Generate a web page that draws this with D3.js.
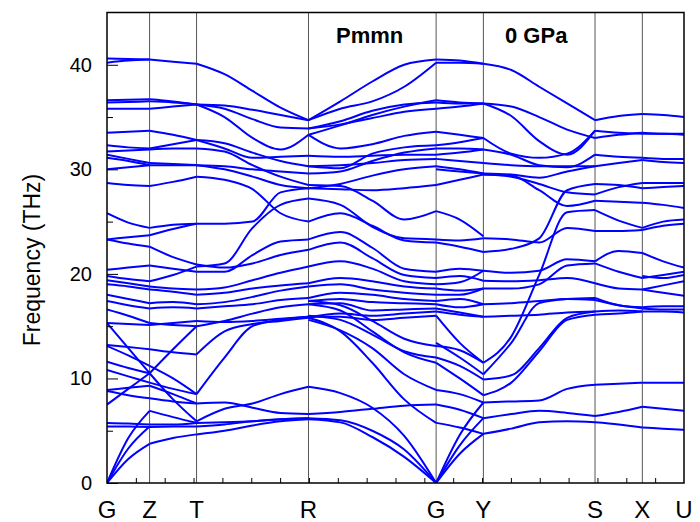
<!DOCTYPE html>
<html>
<head>
<meta charset="utf-8">
<script src="https://cdn.jsdelivr.net/npm/d3@7"></script>
<style>
  body { margin: 0; background: #fff; }
  text { font-family: "Liberation Sans", Arial, sans-serif; }
</style>
</head>
<body>
<div id="chart"></div>
<script>
"use strict";

// high symmetry points along the path (fraction of path length)
let kLabels = ["G", "Z", "T", "R", "G", "Y", "S", "X", "U"];
let kPos = [0, 0.0738, 0.1552, 0.3492, 0.5704, 0.6523, 0.8458, 0.9278, 1];

let yTicks = [0, 10, 20, 30, 40];

let bandsGZ = [
  [40.6, 40.55, 40.5], [40.2, 40.4, 40.5], [36.6, 36.65, 36.7], [36.4, 36.45, 36.5],
  [35.8, 35.8, 35.8], [33.5, 33.6, 33.7], [32.3, 32.1, 32.0], [31.7, 31.8, 31.9],
  [31.4, 31.0, 30.6], [31.1, 30.8, 30.4], [30.0, 30.2, 30.4], [28.7, 28.5, 28.4],
  [25.8, 24.9, 24.4], [23.3, 23.5, 23.7], [23.3, 22.9, 22.6], [20.4, 20.6, 20.8],
  [19.8, 19.5, 19.3], [19.4, 19.1, 18.8], [19.0, 18.8, 18.5], [18.0, 17.6, 17.2],
  [17.4, 17.0, 16.7], [16.6, 16.0, 15.3], [15.3, 15.2, 15.1], [15.3, 12.9, 10.5],
  [13.2, 13.0, 12.8], [13.1, 12.2, 11.2], [11.6, 11.0, 10.5], [10.8, 10.2, 9.6],
  [8.9, 9.1, 9.3], [8.8, 8.4, 8.1], [7.5, 9.0, 10.5], [5.75, 5.7, 5.6],
  [5.4, 5.4, 5.35], [0, 2.3, 3.75], [0, 3.3, 5.4], [0, 4.3, 6.9]
];

let bandsZT = [
  [40.5, 40.3, 40.1], [36.7, 36.5, 36.2], [36.5, 36.4, 36.2], [35.8, 36.0, 36.2],
  [33.7, 33.3, 32.8], [32.0, 32.4, 32.8], [31.9, 32.0, 32.0], [30.6, 30.5, 30.4],
  [30.4, 30.4, 30.4], [28.4, 28.8, 29.3], [24.4, 24.7, 24.8], [23.7, 24.3, 24.8],
  [22.6, 21.6, 20.9], [20.8, 20.5, 20.2], [19.3, 19.9, 20.7], [18.8, 18.6, 18.5],
  [18.5, 18.3, 18.0], [17.2, 17.3, 17.1], [16.7, 16.8, 16.7], [15.3, 15.1, 15.0],
  [15.1, 15.3, 15.5], [12.8, 12.5, 12.3], [10.5, 12.8, 15.0], [10.5, 8.0, 5.9],
  [11.2, 10.0, 8.5], [9.6, 9.0, 8.5], [9.3, 8.5, 7.6], [8.1, 7.8, 7.6],
  [6.9, 6.3, 5.75], [5.6, 5.6, 5.75], [5.35, 5.4, 5.4], [3.75, 4.3, 4.65]
];

let bandsTR = [
  [40.1, 39.1, 37.5, 35.9, 34.7], [36.2, 36.1, 35.7, 35.2, 34.7],
  [36.2, 35.8, 34.8, 34.0, 33.9], [36.2, 35.0, 33.0, 31.9, 33.3],
  [32.8, 32.0, 31.1, 31.2, 31.3], [32.8, 32.5, 31.6, 30.8, 30.3],
  [32.0, 31.7, 30.4, 29.3, 28.5], [30.4, 30.3, 30.0, 29.8, 29.6],
  [30.4, 30.0, 29.3, 28.5, 28.2], [29.3, 29.0, 28.1, 25.8, 25.0],
  [24.8, 24.8, 25.0, 27.8, 28.2], [20.7, 21.0, 24.4, 26.6, 27.2],
  [20.2, 20.2, 21.8, 23.1, 23.3], [20.9, 20.6, 21.0, 21.8, 22.3],
  [18.5, 18.7, 19.4, 20.1, 20.7], [18.0, 18.2, 18.6, 18.9, 19.1],
  [17.1, 17.3, 17.8, 18.4, 18.8], [16.7, 16.9, 17.1, 17.5, 17.7],
  [15.0, 15.5, 16.2, 16.8, 17.1], [15.5, 15.4, 15.5, 15.7, 15.9],
  [12.3, 14.5, 15.2, 15.5, 15.8], [8.5, 12.0, 15.0, 15.6, 15.9],
  [5.9, 7.1, 7.6, 8.5, 9.2], [7.6, 7.7, 7.2, 6.7, 6.6],
  [5.75, 5.8, 5.9, 6.1, 6.2], [5.4, 5.6, 5.9, 6.1, 6.2],
  [4.65, 5.0, 5.5, 5.9, 6.1]
];

let bandsRG = [
  [34.7, 36.5, 38.4, 40.0, 40.5], [34.7, 35.8, 36.5, 37.9, 40.2],
  [33.9, 34.6, 35.6, 36.2, 36.4], [33.3, 34.2, 35.2, 36.0, 36.6],
  [33.9, 34.3, 34.9, 35.5, 35.8], [33.3, 32.0, 32.4, 33.2, 33.6],
  [31.3, 31.2, 31.3, 31.4, 31.4], [30.3, 30.1, 31.5, 32.1, 32.3],
  [29.6, 29.8, 30.8, 31.6, 32.0], [30.3, 30.4, 30.6, 30.9, 31.0],
  [28.2, 28.6, 29.4, 30.0, 30.3], [28.2, 28.1, 28.0, 28.2, 28.5],
  [28.5, 28.4, 27.0, 25.2, 26.0],
  [27.2, 26.6, 24.5, 23.4, 23.3], [25.0, 25.8, 24.6, 23.2, 23.0],
  [23.3, 24.0, 22.5, 20.5, 20.2], [22.3, 23.0, 21.5, 19.9, 19.6],
  [20.7, 21.2, 20.5, 19.3, 19.0], [19.1, 19.6, 19.3, 18.8, 18.6],
  [18.8, 19.0, 18.5, 18.2, 18.0], [17.7, 18.2, 18.0, 17.6, 17.4],
  [17.4, 17.6, 17.3, 17.2, 17.1], [17.1, 17.2, 16.5, 16.6, 16.7],
  [15.8, 16.2, 16.0, 16.2, 16.4], [15.9, 15.9, 15.6, 15.8, 16.0],
  [15.6, 14.6, 12.9, 10.4, 8.9], [15.8, 14.5, 11.5, 8.0, 5.75],
  [17.1, 16.5, 14.5, 12.5, 11.5], [17.4, 17.0, 15.5, 13.8, 13.1],
  [16.0, 15.6, 14.2, 12.6, 12.0], [9.2, 8.6, 7.2, 4.5, 0],
  [6.2, 6.0, 5.0, 3.2, 0], [6.1, 5.8, 4.4, 2.5, 0],
  [6.6, 6.8, 7.1, 7.4, 7.5]
];

let bandsGY = [
  [40.5, 40.4, 40.1], [40.2, 40.2, 40.1], [36.6, 36.4, 36.3], [36.4, 36.3, 36.3],
  [35.8, 36.0, 36.3], [33.6, 33.3, 33.0], [32.3, 32.6, 33.0], [32.0, 32.0, 31.9],
  [31.4, 31.6, 31.9], [31.0, 30.8, 30.6], [30.3, 30.0, 29.6], [30.0, 29.8, 29.6],
  [28.5, 29.0, 29.5], [26.0, 25.2, 23.6], [23.3, 23.2, 23.4], [23.0, 22.6, 22.1],
  [20.2, 20.5, 20.3], [19.6, 19.8, 19.35], [19.0, 19.2, 20.3], [18.6, 18.4, 18.6],
  [18.0, 18.0, 18.6], [17.4, 17.6, 17.1], [17.1, 16.8, 17.1], [16.7, 16.3, 15.9],
  [16.4, 16.1, 15.9], [16.0, 13.4, 11.5], [13.4, 12.0, 10.4], [13.1, 12.7, 11.5],
  [12.0, 11.2, 9.9], [11.5, 10.0, 8.4], [8.9, 8.5, 7.7], [7.5, 7.0, 6.2],
  [5.75, 5.3, 4.7], [0, 2.8, 4.7], [0, 3.6, 6.2], [0, 4.6, 7.7]
];

let bandsYS = [
  [40.1, 39.5, 37.9, 36.3, 34.7], [36.3, 36.0, 35.0, 33.8, 33.0],
  [36.3, 35.1, 32.7, 31.4, 33.7], [33.0, 31.5, 31.1, 31.5, 33.7],
  [31.9, 31.4, 30.4, 30.2, 31.4], [30.6, 30.4, 30.3, 30.3, 30.3],
  [29.6, 29.5, 29.2, 29.8, 30.3], [29.5, 29.3, 28.6, 27.8, 27.6],
  [29.5, 29.4, 28.0, 26.5, 27.0], [23.4, 23.3, 23.0, 24.4, 24.1],
  [22.1, 22.4, 23.4, 28.0, 28.6], [20.3, 20.1, 20.3, 21.4, 21.2],
  [19.35, 19.3, 19.4, 19.6, 19.1], [18.6, 18.6, 19.0, 20.8, 21.0],
  [17.1, 17.2, 17.4, 17.6, 17.5], [15.9, 16.0, 16.1, 16.3, 16.4],
  [11.5, 14.0, 19.9, 25.9, 26.1], [10.4, 13.4, 17.2, 17.6, 17.7],
  [9.9, 10.3, 12.9, 15.8, 16.4], [8.4, 9.6, 12.6, 15.6, 16.1],
  [7.7, 7.8, 7.9, 9.0, 9.4], [6.2, 6.6, 6.9, 6.7, 6.4],
  [4.7, 5.2, 5.8, 5.9, 5.8]
];

let bandsSX = [
  [34.7, 35.1, 35.3], [33.7, 33.5, 33.4], [33.0, 33.3, 33.5], [31.4, 31.2, 31.1],
  [30.3, 30.6, 30.9], [28.6, 28.5, 28.2], [27.6, 28.3, 28.7], [27.0, 26.9, 26.8],
  [26.1, 25.1, 24.4], [24.1, 24.1, 24.2], [21.2, 22.2, 22.0], [21.0, 20.2, 19.6],
  [19.1, 18.6, 18.5], [17.7, 17.0, 16.8], [17.5, 17.0, 16.7], [16.4, 16.5, 16.4],
  [16.1, 16.2, 16.4], [9.4, 9.5, 9.6], [6.4, 6.8, 7.3], [5.8, 5.6, 5.3]
];

let bandsXU = [
  [35.3, 35.2, 35.0], [33.5, 33.4, 33.4], [33.4, 33.4, 33.3], [31.1, 31.0, 31.0],
  [30.9, 30.7, 30.6], [28.7, 28.7, 28.7], [28.2, 28.3, 28.4], [26.8, 26.6, 26.3],
  [24.4, 25.0, 25.2], [24.2, 24.6, 24.8], [22.0, 21.2, 20.6], [19.6, 19.9, 20.2],
  [19.8, 19.6, 19.9], [18.5, 18.9, 19.3], [18.5, 18.2, 17.9], [16.8, 16.9, 16.9],
  [16.7, 16.6, 16.6], [16.4, 16.4, 16.3], [9.6, 9.6, 9.6], [7.3, 7.1, 6.9],
  [5.3, 5.2, 5.1]
];

let segments = [bandsGZ, bandsZT, bandsTR, bandsRG, bandsGY, bandsYS, bandsSX, bandsXU];

var width = 700,
    height = 522,
    plotLeft = 107,
    plotRight = 684,
    plotTop = 12.5,
    plotBottom = 483;

var x = d3.scaleLinear().domain([0, 1]).range([plotLeft, plotRight]);
var y = d3.scaleLinear().domain([0, 45]).range([plotBottom, plotTop]);

var svg = d3.select("#chart").append("svg")
  .attr("width", width)
  .attr("height", height)
  .style("background", "#fff");

svg.append("clipPath").attr("id", "plot")
  .append("rect")
  .attr("x", plotLeft).attr("y", plotTop)
  .attr("width", plotRight - plotLeft).attr("height", plotBottom - plotTop);

// vertical lines at the symmetry points
svg.append("g").selectAll("line")
  .data(kPos.slice(1, -1))
  .enter().append("line")
    .attr("x1", d => x(d)).attr("x2", d => x(d))
    .attr("y1", plotTop).attr("y2", plotBottom)
    .attr("stroke", "#555")
    .attr("stroke-width", 1);

// bands, one path per curve of each segment
var line = d3.line()
  .x(d => x(d[0]))
  .y(d => y(d[1]))
  .curve(d3.curveMonotoneX);

var bandGroup = svg.append("g").attr("clip-path", "url(#plot)");

segments.forEach(function(bands, s) {
  let k0 = kPos[s], k1 = kPos[s + 1];
  bands.forEach(function(vals) {
    let n = vals.length - 1;
    let pts = vals.map((v, j) => [k0 + (k1 - k0) * j / n, v]);
    bandGroup.append("path")
      .attr("d", line(pts))
      .attr("fill", "none")
      .attr("stroke", "#0000ff")
      .attr("stroke-width", 2);
  });
});

// left axis, ticks pointing in
var yAxis = d3.axisLeft(y).tickValues(yTicks).tickSize(-11).tickPadding(15);
var yMinor = d3.axisLeft(y).tickValues([5, 15, 25, 35]).tickSize(-6).tickFormat("");

svg.append("g").attr("transform", `translate(${plotLeft},0)`).call(yAxis)
  .call(g => g.select(".domain").remove())
  .call(g => g.selectAll("text")
    .attr("font-size", 20)
    .attr("font-family", "Liberation Sans, Arial, sans-serif")
    .attr("fill", "#000"));
svg.append("g").attr("transform", `translate(${plotLeft},0)`).call(yMinor)
  .call(g => g.select(".domain").remove());

// bottom ticks every 0.05
var xAxis = d3.axisBottom(x).tickValues(d3.range(1, 20).map(i => i * 0.05)).tickSize(-5).tickFormat("");
svg.append("g").attr("transform", `translate(0,${plotBottom})`).call(xAxis)
  .call(g => g.select(".domain").remove());

// frame
svg.append("rect")
  .attr("x", plotLeft).attr("y", plotTop)
  .attr("width", plotRight - plotLeft).attr("height", plotBottom - plotTop)
  .attr("fill", "none")
  .attr("stroke", "#000")
  .attr("stroke-width", 1.5);

// symmetry point labels
svg.append("g").selectAll("text")
  .data(kLabels)
  .enter().append("text")
    .attr("x", (d, i) => x(kPos[i]))
    .attr("y", 518)
    .attr("text-anchor", "middle")
    .attr("font-size", 24)
    .text(d => d);

svg.append("text")
  .attr("transform", "translate(40,260) rotate(-90)")
  .attr("text-anchor", "middle")
  .attr("font-size", 23)
  .text("Frequency (THz)");

svg.append("text")
  .attr("x", 336).attr("y", 43)
  .attr("font-size", 22)
  .attr("font-weight", "bold")
  .text("Pmmn");

svg.append("text")
  .attr("x", 505).attr("y", 43)
  .attr("font-size", 22)
  .attr("font-weight", "bold")
  .text("0 GPa");
</script>
</body>
</html>
